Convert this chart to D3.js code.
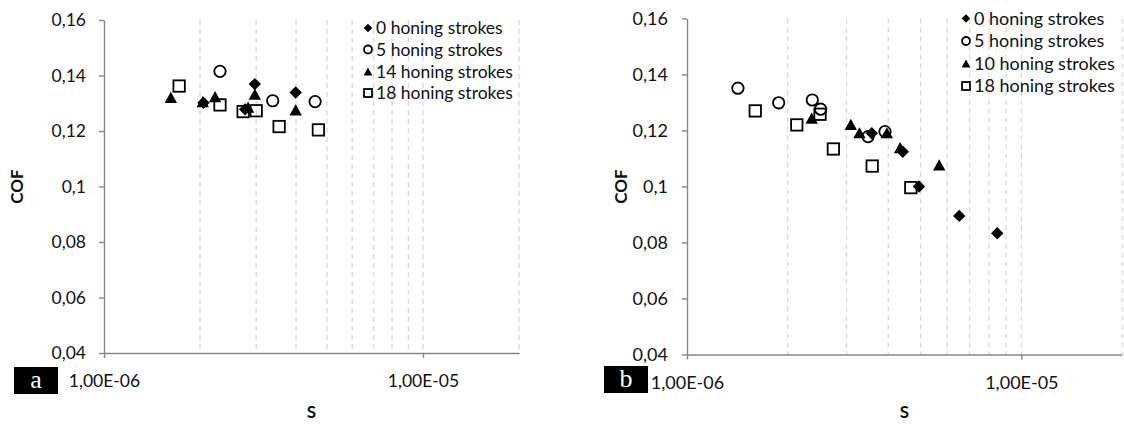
<!DOCTYPE html>
<html>
<head>
<meta charset="utf-8">
<script src="https://cdn.jsdelivr.net/npm/d3@7"></script>
<style>
  html, body { margin: 0; padding: 0; background: #fff; }
  svg { display: block; font-family: Lato, "Open Sans", sans-serif; }
</style>
</head>
<body>
<svg id="chart" width="1124" height="425"></svg>
<script>
// Two COF vs S scatter panels (a, b), Excel-style, log x axis.

var yTicks = [0.04, 0.06, 0.08, 0.10, 0.12, 0.14, 0.16];
var yTickLabels = ['0,04', '0,06', '0,08', '0,1', '0,12', '0,14', '0,16'];
var xTicks = [1e-6, 1e-5];
var xTickLabels = ['1,00E-06', '1,00E-05'];
var xGrid = [2e-6, 3e-6, 4e-6, 5e-6, 6e-6, 7e-6, 8e-6, 9e-6, 1e-5, 2e-5];

// panel a: [S, COF]
var namesA = ['0 honing strokes', '5 honing strokes', '14 honing strokes', '18 honing strokes'];
var a0  = [[2.05e-6, 0.1302], [2.77e-6, 0.1278], [2.97e-6, 0.1369], [3.99e-6, 0.1339]];
var a5  = [[2.31e-6, 0.1415], [3.38e-6, 0.1309], [4.59e-6, 0.1306]];
var a14 = [[1.62e-6, 0.1321], [2.04e-6, 0.1306], [2.23e-6, 0.1324], [2.83e-6, 0.1286],
           [2.97e-6, 0.1333], [3.99e-6, 0.1276]];
var a18 = [[1.72e-6, 0.1362], [2.31e-6, 0.1294], [2.73e-6, 0.1270], [3.00e-6, 0.1273],
           [3.54e-6, 0.1216], [4.70e-6, 0.1204]];

// panel b: [S, COF]
var namesB = ['0 honing strokes', '5 honing strokes', '10 honing strokes', '18 honing strokes'];
var b0  = [[3.57e-6, 0.1190], [4.42e-6, 0.1124], [4.94e-6, 0.1000], [6.52e-6, 0.0895], [8.47e-6, 0.0833]];
var b5  = [[1.42e-6, 0.1351], [1.88e-6, 0.1299], [2.37e-6, 0.1309], [2.51e-6, 0.1276],
           [3.48e-6, 0.1178], [3.91e-6, 0.1196]];
var b10 = [[2.36e-6, 0.1244], [3.09e-6, 0.1222], [3.28e-6, 0.1192], [3.96e-6, 0.1192],
           [4.34e-6, 0.1139], [5.68e-6, 0.1077]];
var b18 = [[1.60e-6, 0.1270], [2.13e-6, 0.1220], [2.50e-6, 0.1258], [2.74e-6, 0.1134],
           [3.58e-6, 0.1073], [4.67e-6, 0.0996]];

var SHAPES = ['diamond', 'circle', 'triangle', 'square'];
var AXIS = '#868686';
var GRID = '#d9d9d9';
var INK = '#111';

var svg = d3.select('#chart');

// draws one marker centred on (0,0); k scales it (legend uses smaller ones)
function drawMarker(sel, shape, k) {
  if (shape === 'diamond') {
    var r = 6.2 * k;
    sel.append('path').attr('d', 'M0,' + (-r) + 'L' + r + ',0L0,' + r + 'L' + (-r) + ',0Z')
      .attr('fill', '#000');
  } else if (shape === 'circle') {
    sel.append('circle').attr('r', 5.7 * k)
      .attr('fill', 'none').attr('stroke', '#000').attr('stroke-width', 1.8);
  } else if (shape === 'triangle') {
    var w = 6.2 * k, h = 5.6 * k;
    sel.append('path').attr('d', 'M0,' + (-h) + 'L' + w + ',' + h + 'L' + (-w) + ',' + h + 'Z')
      .attr('fill', '#000');
  } else {
    var s = 11.4 * k;
    sel.append('rect').attr('x', -s / 2).attr('y', -s / 2).attr('width', s).attr('height', s)
      .attr('fill', 'none').attr('stroke', '#000').attr('stroke-width', 1.8);
  }
}

function panel(cfg) {
  var x = d3.scaleLog().domain([1e-6, 2e-5]).range([cfg.left, cfg.right]);
  var y = d3.scaleLinear().domain([0.04, 0.16]).range([cfg.bottom, cfg.top]);
  var g = svg.append('g');

  // dashed vertical gridlines
  g.append('g').selectAll('line').data(xGrid).join('line')
    .attr('x1', function (d) { return x(d); }).attr('x2', function (d) { return x(d); })
    .attr('y1', y(0.16)).attr('y2', y(0.04))
    .attr('stroke', GRID).attr('stroke-width', 1.3).attr('stroke-dasharray', '5,4');

  var yAxis = g.append('g').attr('transform', 'translate(' + cfg.left + ',0)')
    .call(d3.axisLeft(y).tickValues(yTicks)
      .tickFormat(function (d, i) { return yTickLabels[i]; })
      .tickSize(5).tickSizeOuter(0).tickPadding(cfg.yPad));
  var xAxis = g.append('g').attr('transform', 'translate(0,' + cfg.bottom + ')')
    .call(d3.axisBottom(x).tickValues(xTicks)
      .tickFormat(function (d, i) { return xTickLabels[i]; })
      .tickSize(5).tickSizeOuter(0).tickPadding(16.5));

  [yAxis, xAxis].forEach(function (ax) {
    ax.select('.domain').attr('stroke', AXIS).attr('stroke-width', 1.4);
    ax.selectAll('.tick line').attr('stroke', AXIS).attr('stroke-width', 1.4);
    ax.selectAll('.tick text').attr('fill', INK)
      .style('font-size', cfg.fs + 'px').style('font-family', 'Lato, "Open Sans", sans-serif');
  });

  // series, in Excel order
  cfg.series.forEach(function (pts, si) {
    g.append('g').selectAll('g').data(pts).join('g')
      .attr('transform', function (d) { return 'translate(' + x(d[0]) + ',' + y(d[1]) + ')'; })
      .each(function () { drawMarker(d3.select(this), SHAPES[si], 1); });
  });

  // legend
  cfg.names.forEach(function (name, i) {
    var ly = cfg.legendY[i];
    var m = g.append('g').attr('transform', 'translate(' + (cfg.legendX - 8) + ',' + ly + ')');
    drawMarker(m, SHAPES[i], 0.7);
    g.append('text').attr('x', cfg.legendX).attr('y', ly).attr('dy', '0.35em')
      .attr('fill', INK).style('font-size', cfg.fs + 'px').text(name);
  });

  // axis titles
  g.append('text')
    .attr('transform', 'translate(' + cfg.cofX + ',' + ((cfg.top + cfg.bottom) / 2) + ') rotate(-90)')
    .attr('text-anchor', 'middle').attr('dy', '0.35em')
    .style('font-size', '17px').style('font-weight', 'bold').attr('fill', INK).text('COF');
  g.append('text')
    .attr('x', (cfg.left + cfg.right) / 2).attr('y', 412).attr('dy', '0.35em')
    .attr('text-anchor', 'middle')
    .style('font-size', '17px').style('font-weight', 'bold').attr('fill', INK).text('S');

  // panel tag
  var b = cfg.tagBox;
  g.append('rect').attr('x', b[0]).attr('y', b[1]).attr('width', b[2]).attr('height', b[3])
    .attr('fill', '#000');
  g.append('text').attr('x', b[0] + b[2] / 2).attr('y', b[1] + b[3] / 2).attr('dy', '0.3em')
    .attr('text-anchor', 'middle').attr('fill', '#fff')
    .style('font-family', '"Liberation Serif", "DejaVu Serif", serif').style('font-size', '26px')
    .text(cfg.tag);
}

panel({
  tag: 'a', names: namesA, series: [a0, a5, a14, a18],
  left: 104, right: 519, top: 20, bottom: 353, fs: 17.5, yPad: 13,
  legendX: 376, legendY: [28, 49.5, 71.5, 93], cofX: 17, tagBox: [14, 367, 44, 27]
});
panel({
  tag: 'b', names: namesB, series: [b0, b5, b10, b18],
  left: 687, right: 1122, top: 18.5, bottom: 354.5, fs: 18, yPad: 14,
  legendX: 974, legendY: [18.5, 41, 63.5, 86], cofX: 621, tagBox: [604, 366, 44, 27]
});
</script>
</body>
</html>
